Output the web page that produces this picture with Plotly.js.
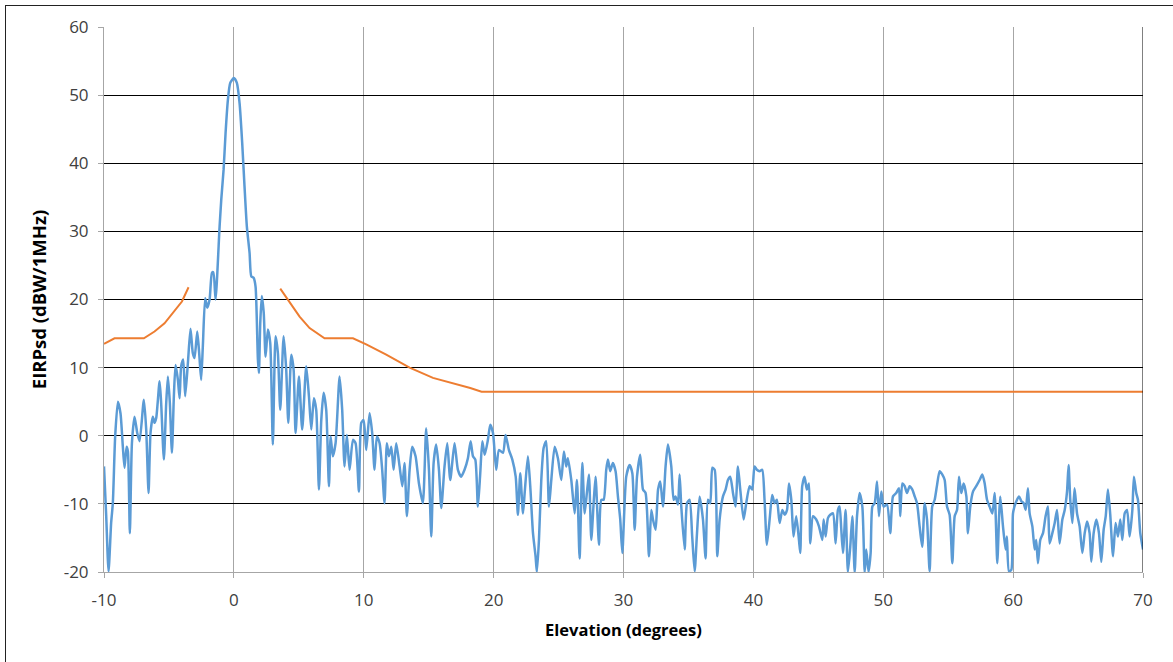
<!DOCTYPE html>
<html>
<head>
<meta charset="utf-8">
<script src="https://cdn.plot.ly/plotly-3.0.1.min.js"></script>
<style>
  html, body { margin: 0; padding: 0; background: #fff; }
  #wrap { position: relative; width: 1173px; height: 662px; overflow: hidden; }
  #chart { position: absolute; left: 0; top: 0; width: 1173px; height: 662px; }
  #frame { position: absolute; left: 5px; top: 5px; width: 1200px; height: 700px;
           border-left: 1.5px solid #222; border-top: 1.5px solid #222; pointer-events: none; }
</style>
</head>
<body>
<div id="wrap">
  <div id="chart"></div>
  <div id="frame"></div>
</div>
<script>
// Measured EIRP spectral density (blue)
const elevation = [
 -10.0,-9.83,-9.65,-9.45,-9.32,-9.14,-8.93,-8.73,-8.55,-8.42,-8.26,-8.16,-8.01,-7.85,-7.65,-7.44,-7.26,-6.93,-6.75,-6.57,
 -6.42,-6.24,-6.11,-5.98,-5.72,-5.60,-5.39,-5.21,-5.08,-4.93,-4.77,-4.62,-4.49,-4.31,-4.18,-4.06,-3.90,-3.75,-3.54,-3.34,
 -3.16,-3.03,-2.82,-2.67,-2.52,-2.39,-2.21,-2.05,-1.87,-1.69,-1.58,-1.41,-1.10,-0.97,-0.79,-0.64,-0.46,-0.28,0.0,0.23,
 0.44,0.64,0.82,1.00,1.21,1.34,1.52,1.67,1.85,1.93,2.03,2.15,2.30,2.44,2.62,2.80,3.00,3.21,3.39,3.57,
 3.83,4.03,4.19,4.42,4.60,4.75,5.01,5.26,5.57,5.78,5.96,6.16,6.34,6.55,6.73,6.91,7.11,7.32,7.45,7.62,
 7.83,8.14,8.34,8.52,8.70,8.91,9.17,9.37,9.63,9.81,9.99,10.19,10.45,10.65,10.83,11.01,11.22,11.42,11.60,11.78,
 11.94,12.12,12.30,12.50,12.76,12.97,13.14,13.32,13.53,13.73,13.99,14.25,14.55,14.81,15.02,15.20,15.38,15.58,15.79,15.97,
 16.22,16.43,16.66,16.99,17.25,17.50,17.76,18.02,18.23,18.41,18.59,18.79,18.97,19.13,19.31,19.56,19.74,19.95,20.20,20.41,
 20.72,20.92,21.18,21.44,21.70,21.87,22.05,22.26,22.39,22.64,22.82,23.03,23.23,23.33,23.49,23.67,23.85,24.05,24.26,24.44,
 24.70,24.95,25.21,25.41,25.59,25.72,25.98,26.24,26.42,26.62,26.83,27.01,27.18,27.34,27.52,27.70,27.85,28.11,28.29,28.47,
 28.67,28.80,28.98,29.18,29.39,29.57,29.75,29.91,30.21,30.47,30.68,30.86,31.04,31.29,31.50,31.70,31.96,32.14,32.27,32.47,
 32.66,32.83,33.04,33.24,33.42,33.68,33.86,34.01,34.19,34.32,34.45,34.71,34.89,35.09,35.29,35.48,35.66,35.86,36.12,36.32,
 36.50,36.68,36.84,37.02,37.22,37.40,37.66,37.86,38.04,38.22,38.43,38.63,38.81,38.99,39.25,39.45,39.71,39.91,40.09,40.27,
 40.48,40.68,40.86,41.04,41.25,41.45,41.63,41.81,42.02,42.23,42.41,42.59,42.74,42.92,43.09,43.30,43.51,43.61,43.76,43.94,
 44.12,44.28,44.38,44.59,44.84,45.05,45.31,45.41,45.56,45.74,45.92,46.13,46.33,46.51,46.64,46.77,46.90,47.10,47.28,47.46,
 47.62,47.80,47.98,48.18,48.39,48.57,48.69,48.87,49.03,49.16,49.34,49.52,49.67,49.85,50.03,50.29,50.54,50.75,51.00,51.21,
 51.31,51.47,51.65,51.83,52.03,52.24,52.42,52.60,52.80,53.00,53.19,53.37,53.57,53.77,53.96,54.13,54.34,54.55,54.73,54.91,
 55.11,55.32,55.50,55.68,55.83,56.01,56.19,56.40,56.52,56.70,56.91,57.16,57.42,57.63,57.81,57.99,58.19,58.40,58.58,58.78,
 58.92,59.01,59.22,59.42,59.52,59.68,59.86,59.99,60.19,60.45,60.63,60.81,60.97,61.14,61.27,61.48,61.66,61.78,61.91,62.09,
 62.30,62.50,62.68,62.81,63.02,63.20,63.38,63.58,63.79,63.97,64.15,64.27,64.40,64.56,64.73,64.92,65.12,65.33,65.51,65.69,
 65.89,66.02,66.20,66.41,66.61,66.79,66.97,67.13,67.30,67.48,67.69,67.89,68.07,68.25,68.41,68.59,68.77,68.97,69.18,69.30,
 69.48,69.61,69.79,70.0
];
const eirpsd = [
 -4.5,-11.8,-19.9,-12.8,-9.9,-0.1,5.0,3.3,-1.6,-4.7,-1.6,-2.3,-14.3,-1.1,2.8,0.4,-0.8,5.3,0.9,-8.4,
 0.4,2.8,1.9,2.6,8.0,4.8,-3.5,4.8,8.7,4.8,-2.5,5.8,10.4,8.2,5.5,10.2,11.2,5.8,10.7,15.7,
 12.1,11.4,15.3,12.1,8.2,13.1,20.2,18.8,20.0,23.9,24.0,20.0,30.7,34.7,39.1,44.4,49.3,51.8,52.5,51.8,
 48.8,43.0,36.6,30.7,26.8,23.4,23.2,21.9,11.2,9.2,16.5,20.5,18.0,11.6,15.6,13.6,-1.3,14.6,12.1,3.8,
 14.6,9.7,1.9,11.9,9.7,0.4,8.7,0.9,10.2,5.8,0.9,5.5,3.8,-7.9,2.3,6.3,3.8,-7.4,-0.1,-3.0,
 -1.1,8.7,3.8,-4.5,0.1,-5.0,-0.6,-1.1,-8.2,1.9,2.3,-2.1,3.3,0.4,-5.0,-0.1,-1.1,-5.0,-9.9,-1.1,
 -3.0,-1.6,-5.0,-1.1,-4.5,-7.4,-4.0,-11.8,-5.0,-1.6,-3.0,-7.0,-9.9,1.1,-5.0,-14.8,-4.0,-1.3,-5.0,-10.6,
 -4.5,-1.1,-6.5,-1.1,-5.0,-6.0,-5.0,-3.3,-0.8,-3.0,-3.5,-10.4,-5.5,-0.8,-2.8,-0.6,1.6,0.4,-5.0,-2.1,
 -2.5,0.1,-2.1,-3.5,-6.0,-11.6,-5.5,-11.4,-8.4,-3.0,-7.4,-14.3,-17.7,-20.0,-15.3,-6.5,-1.8,-0.8,-10.4,-6.5,
 -1.6,-3.3,-6.5,-2.3,-4.5,-3.3,-6.5,-11.4,-6.5,-18.0,-4.0,-11.4,-8.4,-5.7,-15.3,-9.9,-6.0,-16.0,-9.4,-9.4,
 -5.0,-3.5,-5.2,-4.0,-5.2,-8.9,-12.3,-17.2,-6.0,-4.3,-5.5,-13.8,-6.0,-2.8,-7.9,-8.4,-17.7,-10.9,-12.3,-13.8,
 -7.9,-6.7,-10.4,-4.5,-1.3,-4.5,-9.4,-8.9,-10.1,-5.7,-10.4,-16.7,-9.9,-9.4,-14.8,-19.9,-14.3,-8.9,-12.3,-18.0,
 -9.4,-9.9,-4.7,-5.0,-17.7,-12.3,-8.9,-7.9,-6.5,-6.0,-8.4,-10.4,-4.5,-7.9,-12.3,-9.9,-7.4,-7.9,-4.5,-5.0,
 -5.2,-5.0,-9.4,-16.0,-12.3,-8.7,-9.9,-9.4,-12.8,-10.9,-11.6,-10.9,-7.0,-9.4,-14.8,-11.8,-15.3,-17.2,-7.4,-6.0,
 -7.9,-7.0,-15.8,-11.8,-12.3,-13.3,-15.3,-12.3,-14.8,-12.1,-11.6,-11.4,-15.8,-10.9,-10.4,-13.8,-17.2,-10.9,-20.0,-16.3,
 -11.8,-20.0,-11.8,-8.4,-10.4,-20.0,-16.7,-20.0,-17.2,-10.4,-9.9,-6.7,-11.8,-8.2,-10.4,-10.1,-14.3,-8.9,-8.4,-7.7,
 -11.8,-7.0,-7.4,-8.4,-7.4,-7.9,-8.9,-9.9,-13.3,-16.3,-9.9,-12.3,-19.9,-10.4,-9.4,-7.4,-5.2,-5.7,-6.5,-10.4,
 -11.6,-18.7,-11.8,-10.9,-6.0,-8.4,-7.0,-8.9,-14.3,-10.4,-8.2,-7.4,-6.5,-5.7,-7.0,-9.4,-10.4,-11.4,-8.4,-18.7,
 -11.8,-8.9,-13.3,-16.7,-14.8,-19.9,-19.7,-11.4,-9.9,-8.9,-9.6,-9.9,-10.9,-7.7,-11.4,-13.3,-16.7,-15.3,-18.7,-15.3,
 -14.3,-11.8,-10.4,-15.8,-14.3,-12.8,-10.9,-15.8,-12.3,-10.9,-8.2,-4.3,-9.4,-12.8,-7.7,-11.4,-13.3,-17.2,-14.3,-12.6,
 -14.3,-18.5,-14.3,-12.3,-14.3,-18.5,-13.8,-11.8,-7.9,-11.6,-17.7,-12.8,-14.8,-12.3,-15.3,-11.4,-10.9,-14.8,-10.9,-6.0,
 -8.4,-9.4,-14.3,-16.7
];
// Mask limit (orange), two branches separated by a gap
const maskX = [-10.0,-9.19,-6.93,-6.11,-5.34,-4.57,-4.0,-3.49, null,
               3.57,4.29,5.06,5.83,6.98,9.17,10.19,11.73,13.53,15.33,17.38,18.2,19.07,70.0];
const maskY = [13.5,14.3,14.3,15.3,16.5,18.3,19.7,21.8, null,
               21.6,19.7,17.5,15.8,14.3,14.3,13.4,11.9,10.0,8.5,7.5,7.0,6.46,6.46];

const xTicks = [-10,0,10,20,30,40,50,60,70];
const yTicks = [-20,-10,0,10,20,30,40,50,60];

const font = 'Open Sans, Liberation Sans, sans-serif';

Plotly.newPlot('chart', [
  {
    x: elevation, y: eirpsd, type: 'scatter', mode: 'lines',
    line: {color: '#5B9BD5', width: 2.5, shape: 'spline', smoothing: 0.6},
    showlegend: false, cliponaxis: true
  },
  {
    x: maskX, y: maskY, type: 'scatter', mode: 'lines',
    line: {color: '#ED7D31', width: 2, shape: 'linear'},
    connectgaps: false, showlegend: false
  }
], {
  width: 1173, height: 662,
  margin: {l: 104, r: 30, t: 27, b: 90},
  paper_bgcolor: '#ffffff', plot_bgcolor: '#ffffff',
  font: {family: font, size: 17, color: '#404040'},
  xaxis: {
    range: [-10, 70], tickvals: xTicks, ticktext: xTicks.map(String),
    showgrid: true, gridcolor: '#a6a6a6', gridwidth: 1,
    showline: true, linecolor: '#a6a6a6', linewidth: 1, mirror: false,
    ticks: 'outside', ticklen: 5, tickcolor: '#a6a6a6',
    ticklabelstandoff: 8,
    zeroline: false, fixedrange: true,
    tickfont: {family: font, size: 17, color: '#404040'},
    title: {text: '<b>Elevation (degrees)</b>', font: {family: font, size: 16.5, color: '#000'}, standoff: 14}
  },
  yaxis: {
    range: [-20, 60], tickvals: yTicks, ticktext: yTicks.map(String),
    showgrid: true, gridcolor: '#000000', gridwidth: 1,
    showline: true, linecolor: '#a6a6a6', linewidth: 1,
    ticks: 'outside', ticklen: 5, tickcolor: '#a6a6a6',
    ticklabelstandoff: 6,
    zeroline: false, fixedrange: true,
    tickfont: {family: font, size: 17, color: '#404040'},
    title: {text: '<b>EIRPsd (dBW/1MHz)</b>', font: {family: font, size: 18.5, color: '#000'}, standoff: 12}
  },
  shapes: [
    {type: 'line', xref: 'x', yref: 'paper', x0: 70, x1: 70, y0: 0, y1: 1, line: {color: '#000', width: 1}}
  ]
}, {staticPlot: true});
</script>
</body>
</html>
